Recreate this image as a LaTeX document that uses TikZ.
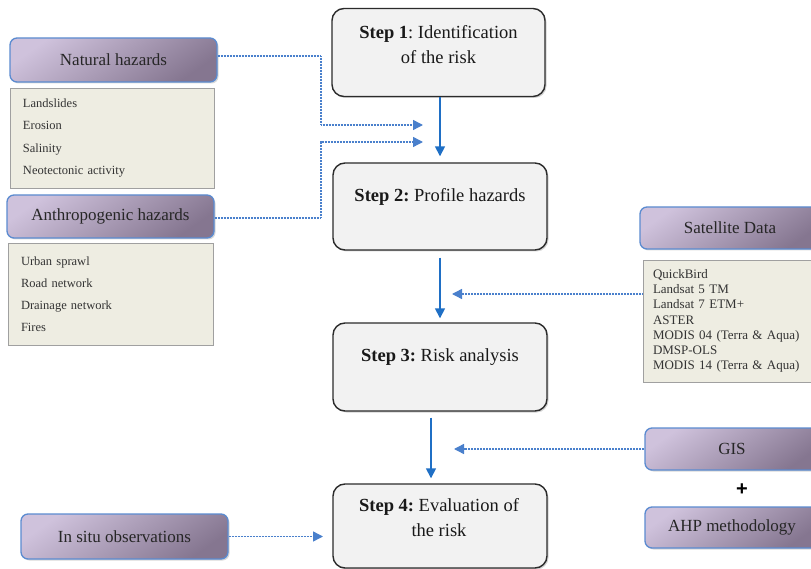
\documentclass[tikz,border=0pt]{standalone}
\usepackage{fontspec}
\setmainfont{Liberation Serif}
\newfontfamily\plusfont{Liberation Sans}
\usetikzlibrary{arrows.meta,shadows}
\definecolor{purL}{HTML}{CFC2DC}
\definecolor{purD}{HTML}{857690}
\definecolor{purB}{HTML}{5B8BD0}
\definecolor{stepF}{HTML}{F2F2F2}
\definecolor{stepB}{HTML}{2B2B2B}
\definecolor{listF}{HTML}{EEEDE2}
\definecolor{listB}{HTML}{A0A0A0}
\definecolor{arrB}{HTML}{1F6FC5}
\definecolor{dotB}{HTML}{4A80CC}
\tikzset{
  stepbox/.style={draw=stepB, fill=stepF, line width=1.4pt, rounded corners=12pt,
    drop shadow={shadow xshift=1.5pt, shadow yshift=-1.5pt, opacity=0.35}},
  steptext/.style={align=center, font=\fontsize{18.5}{25}\selectfont, inner sep=0pt, text=black!90},
  purbox/.style={draw=purB, line width=1.3pt, rounded corners=7pt,
    top color=purL, bottom color=purD, shading angle=35,
    font=\fontsize{17}{20}\selectfont, text=black!85,
    drop shadow={shadow xshift=1.5pt, shadow yshift=-1.5pt, opacity=0.3}},
  listbox/.style={draw=listB, fill=listF, line width=0.6pt, align=left,
    inner xsep=13pt, anchor=center, text=black!80},
  steparrow/.style={draw=arrB, line width=1.6pt, -{Triangle[width=10pt,length=10pt]}},
  dotarrow/.style={draw=dotB, line width=1.4pt, dash pattern=on 1pt off 0.5pt,
    -{Triangle[width=10pt,length=10pt]}},
}
\begin{document}
\frenchspacing
\begin{tikzpicture}[x=1pt,y=-1pt]
\useasboundingbox (0,0) rectangle (811,569);
\clip (0,0) rectangle (811,569);
% step boxes
\node[stepbox, minimum width=213pt, minimum height=88pt] (s1) at (438.5,52.5) {};
\node[stepbox, minimum width=214pt, minimum height=87pt] (s2) at (440,206.5) {};
\node[stepbox, minimum width=214pt, minimum height=88pt] (s3) at (440,367) {};
\node[stepbox, minimum width=214pt, minimum height=84pt] (s4) at (440,526) {};
\node[steptext] (s1t) at (438.5,44.5) {\textbf{Step 1}: Identification\\of the risk};
\node[steptext] (s2t) at (440,197) {\textbf{Step 2:} Profile hazards};
\node[steptext] (s3t) at (440,357) {\textbf{Step 3:} Risk analysis};
\node[steptext] (s4t) at (439,517.5) {\textbf{Step 4:} Evaluation of\\the risk};
% purple boxes
\node[purbox, minimum width=207pt, minimum height=44pt] (nat) at (113.5,60) {Natural hazards};
\node[purbox, minimum width=207pt, minimum height=43pt] (anth) at (110.5,216.5) {Anthropogenic hazards};
\node[purbox, minimum width=180pt, minimum height=42pt] (sat) at (730,228) {Satellite Data};
\node[purbox, minimum width=174pt, minimum height=42pt] (gis) at (732,449) {GIS};
\node[purbox, minimum width=174pt, minimum height=41pt] (ahp) at (732,527.5) {AHP methodology};
\node[purbox, minimum width=207pt, minimum height=45pt] (insitu) at (124.5,536.5) {In situ observations};
\node[font=\plusfont\bfseries\fontsize{20}{20}\selectfont, inner sep=0pt] (plus) at (742,490) {+};
% lists
\node[listbox, minimum width=204pt, minimum height=100pt, text width=178pt,
  font=\fontsize{12.5}{22.6}\selectfont] (natlist) at (112,138)
  {Landslides\\Erosion\\Salinity\\Neotectonic activity};
\node[listbox, minimum width=205pt, minimum height=102pt, text width=179pt,
  font=\fontsize{12.5}{22}\selectfont] (anthlist) at (110.5,294)
  {Urban sprawl\\Road network\\Drainage network\\Fires};
\node[listbox, minimum width=180pt, minimum height=122pt, text width=160pt,
  inner xsep=10pt, font=\fontsize{13}{15.2}\selectfont] (satlist) at (733,321)
  {QuickBird\\Landsat 5 TM\\Landsat 7 ETM+\\ASTER\\MODIS 04 (Terra \& Aqua)\\DMSP-OLS\\MODIS 14 (Terra \& Aqua)};
% coordinates for connector ends
\coordinate (j1) at (321,125);
\coordinate (in1) at (423,125);
\coordinate (j2) at (321,142);
\coordinate (in2) at (423,142);
\coordinate (in3) at (452,294);
\coordinate (in4) at (454,0);
\coordinate (in5) at (323,0);
% step arrows
\draw[steparrow, shorten >=6pt] (s1.south -| s2.north) -- (s2.north);
\draw[steparrow, shorten <=7pt, shorten >=4pt] (s2.south) -- (s3.north);
\draw[steparrow, shorten <=6pt, shorten >=5pt] ([xshift=-9pt]s3.south) -- ([xshift=-9pt]s4.north);
% dotted arrows
\draw[dotarrow] ([yshift=4pt]nat.east) -| (j1) -- (in1);
\draw[dotarrow] ([yshift=-1.5pt]anth.east) -| (j2) -- (in2);
\draw[dotarrow] ([yshift=27pt]satlist.west) -- (in3);
\draw[dotarrow] (gis.west) -- (gis.west -| in4);
\draw[dotarrow] (insitu.east) -- (insitu.east -| in5);
\end{tikzpicture}
\end{document}
